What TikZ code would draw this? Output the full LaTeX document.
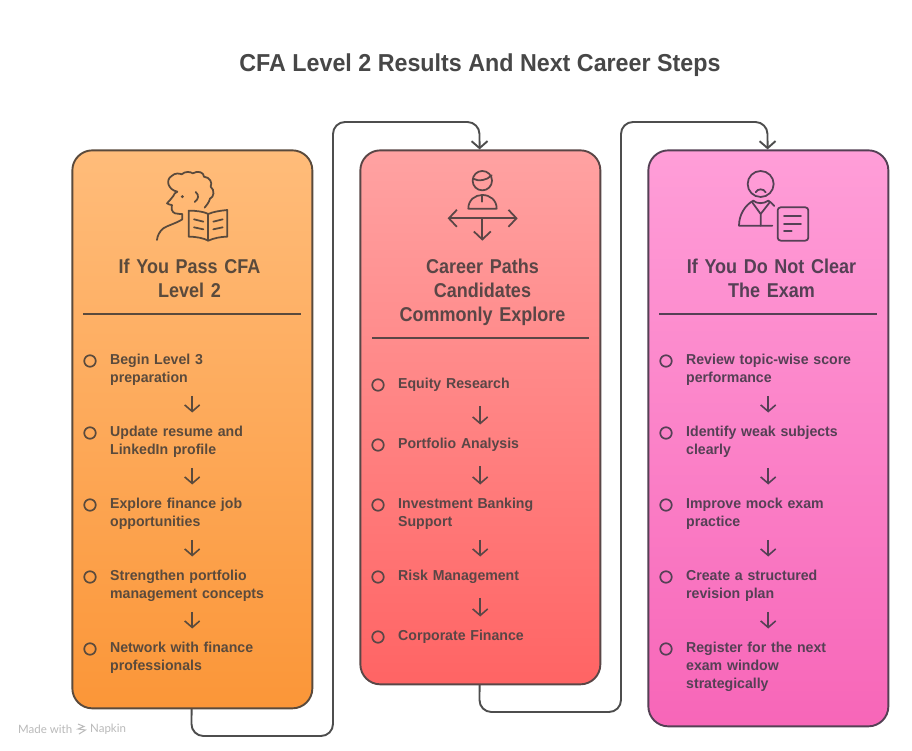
\documentclass[tikz,border=0pt]{standalone}
\usepackage{fontspec}
\setmainfont[FakeStretch=0.95]{Liberation Sans}
\newfontfamily\headfont[FakeStretch=0.9]{Liberation Sans}
\newfontfamily\itemfont[FakeStretch=0.98]{Liberation Sans}
\newfontfamily\markfont{Lato}
\usetikzlibrary{arrows.meta,shadings,calc}
\definecolor{orgtxt}{HTML}{5A4A3C}
\definecolor{redtxt}{HTML}{5A4646}
\definecolor{pnktxt}{HTML}{554055}
\definecolor{conn}{HTML}{4D4D4D}
\tikzset{
  x=1pt,y=-1pt,
  card/.style={draw=#1,line width=1.9pt,rounded corners=20pt,inner sep=0pt,anchor=north west},
  ghost/.style={inner sep=0pt,anchor=north west,minimum width=240pt},
  heading/.style={text=#1,font=\headfont\fontsize{20}{24}\selectfont\bfseries,align=center,inner sep=0pt,anchor=north,text width=230pt},
  item/.style={text=#1,font=\itemfont\fontsize{14.4}{18}\selectfont\bfseries,align=left,inner sep=0pt,anchor=north west,text width=164pt},
  bullet/.style={draw=#1,line width=1.7pt,circle,inner sep=0pt,minimum size=11.5pt},
  rule/.style={draw=#1,line width=1.6pt},
  ico/.style={draw=#1,line width=1.75pt,line cap=round,line join=round},
  link/.style={draw=#1,line width=1.6pt,-{Straight Barb[length=6.5pt,width=15pt,line width=1.6pt]},shorten <=8pt,shorten >=11pt},
  flow/.style={draw=conn,line width=1.9pt,rounded corners=12pt,-{Straight Barb[length=7pt,width=16pt,line width=1.9pt]}},
  bigbarb/.style={{Straight Barb[length=8pt,width=17pt,line width=1.75pt]}-{Straight Barb[length=8pt,width=17pt,line width=1.75pt]}},
  downbarb/.style={-{Straight Barb[length=8pt,width=17pt,line width=1.75pt]}},
}
\newcommand{\itm}[4]{\node[item=#1] (#2) at (#3) {\strut #4\strut};}
\begin{document}
\begin{tikzpicture}
\useasboundingbox (0,0) rectangle (912,751);
\fill[white] (0,0) rectangle (912,751);

\node[text=black!72,font=\fontsize{24.5}{28}\selectfont\bfseries,inner sep=0pt] (title) at (480,65.5) {CFA Level 2 Results And Next Career Steps};

% connectors (below the cards)
\node[ghost,minimum height=558pt] (c1) at (71.4,149.4) {};
\node[ghost,minimum height=534pt] (c2) at (359.4,149.4) {};
\node[ghost,minimum height=576pt] (c3) at (647.4,149.4) {};
\coordinate (f1a) at (191.4,736);
\coordinate (f1b) at (333,736);
\coordinate (f1c) at (333,122);
\coordinate (f1d) at (479.4,122);
\coordinate (f2a) at (479.4,712);
\coordinate (f2b) at (621,712);
\coordinate (f2c) at (621,122);
\coordinate (f2d) at (767.4,122);
\draw[flow] (c1.south) -- (f1a) -- (f1b) -- (f1c) -- (f1d) -- (c2.north);
\draw[flow] (c2.south) -- (f2a) -- (f2b) -- (f2c) -- (f2d) -- (c3.north);

% cards
\node[card=orgtxt,minimum width=240pt,minimum height=558pt,top color={rgb,255:red,255;green,188;blue,122},bottom color={rgb,255:red,251;green,150;blue,56}] at (71.4,149.4) {};
\node[card=redtxt,minimum width=240pt,minimum height=534pt,top color={rgb,255:red,255;green,162;blue,162},bottom color={rgb,255:red,255;green,100;blue,100}] at (359.4,149.4) {};
\node[card=pnktxt,minimum width=240pt,minimum height=576pt,top color={rgb,255:red,255;green,158;blue,216},bottom color={rgb,255:red,247;green,102;blue,184}] at (647.4,149.4) {};

% icon 1
\begin{scope}[shift={(60,140)},x=0.3333pt,y=-0.3333pt]
\draw[ico=orgtxt] (352,155) .. controls (325,150) and (315,120) .. (335,108)
  .. controls (345,98) and (358,100) .. (365,103)
  .. controls (375,93) and (392,95) .. (398,100)
  .. controls (415,90) and (432,98) .. (432,110)
  .. controls (450,112) and (458,128) .. (452,140)
  .. controls (465,150) and (462,172) .. (450,176)
  .. controls (447,188) and (440,195) .. (434,203);
\draw[ico=orgtxt] (352,155) .. controls (345,158) and (342,162) .. (340,168)
  .. controls (335,178) and (325,183) .. (321,190)
  .. controls (325,194) and (332,194) .. (336,195)
  .. controls (334,205) and (334,215) .. (345,220)
  .. controls (355,222) and (362,222) .. (367,222)
  -- (367,238) .. controls (345,252) and (325,255) .. (310,265)
  .. controls (298,275) and (292,288) .. (291,300);
\fill[orgtxt] (367,170) circle (1.6pt);
\draw[ico=orgtxt] (407,156) .. controls (418,165) and (416,178) .. (404,186);
\draw[ico=orgtxt] (386,212) .. controls (410,212) and (432,215) .. (445,222)
  .. controls (460,215) and (482,212) .. (502,210) -- (502,290)
  .. controls (482,290) and (460,295) .. (445,302)
  .. controls (432,295) and (410,290) .. (386,290) -- cycle;
\draw[ico=orgtxt] (445,222) -- (445,302);
\draw[ico=orgtxt] (402,238) -- (430,245) (402,262) -- (430,268) (460,245) -- (488,238) (460,268) -- (488,262);
\end{scope}

% icon 2
\begin{scope}[shift={(350,110)},x=0.3333pt,y=-0.3333pt]
\draw[ico=redtxt] (397,212) circle (9.7pt);
\draw[ico=redtxt] (369,206) .. controls (385,215) and (410,212) .. (425,196);
\draw[ico=redtxt] (355,296) .. controls (355,270) and (375,255) .. (397,255) .. controls (420,255) and (440,270) .. (440,296) -- cycle;
\draw[ico=redtxt] (397,255) -- (397,275);
\draw[ico=redtxt,bigbarb] (293,325) -- (503,325);
\draw[ico=redtxt,downbarb] (397,325) -- (397,392);
\end{scope}

% icon 3
\begin{scope}[shift={(640,110)},x=0.3333pt,y=-0.3333pt]
\draw[ico=pnktxt] (362,222) circle (13pt);
\draw[ico=pnktxt] (347,247) .. controls (352,235) and (372,235) .. (377,247);
\draw[ico=pnktxt] (397,347) -- (297,347) .. controls (297,315) and (315,285) .. (340,272)
  .. controls (350,282) and (372,282) .. (385,272) .. controls (392,276) and (398,282) .. (403,288);
\draw[ico=pnktxt] (336,276) -- (362,312) -- (390,276) (362,312) -- (362,347);
\draw[ico=pnktxt,rounded corners=3pt] (413,292) rectangle (505,392);
\draw[ico=pnktxt] (432,318) -- (483,318) (432,341) -- (483,341) (432,364) -- (455,364);
\end{scope}

% headings and rules
\node[heading=orgtxt] (h1) at (189.5,258.5) {If You Pass CFA\\Level 2};
\node[heading=redtxt] (h2) at (482.5,258.5) {Career Paths\\Candidates\\Commonly Explore};
\node[heading=pnktxt] (h3) at (771.5,258.5) {If You Do Not Clear\\The Exam};
\draw[rule=orgtxt] (83,314) coordinate (r1a) -- (301,314) coordinate (r1b);
\draw[rule=redtxt] (372,338) coordinate (r2a) -- (589,338) coordinate (r2b);
\draw[rule=pnktxt] (659,314) coordinate (r3a) -- (877,314) coordinate (r3b);

% column 1
\itm{orgtxt}{a1}{110,351.5}{Begin Level 3\\preparation}
\itm{orgtxt}{a2}{110,423.5}{Update resume and\\LinkedIn profile}
\itm{orgtxt}{a3}{110,495.5}{Explore finance job\\opportunities}
\itm{orgtxt}{a4}{110,567.5}{Strengthen portfolio\\management concepts}
\itm{orgtxt}{a5}{110,639.5}{Network with finance\\professionals}
\node[bullet=orgtxt] (ba1) at (90,361) {};
\node[bullet=orgtxt] (ba2) at (90,433) {};
\node[bullet=orgtxt] (ba3) at (90,505) {};
\node[bullet=orgtxt] (ba4) at (90,577) {};
\node[bullet=orgtxt] (ba5) at (90,649) {};
\draw[link=orgtxt] (a1.south) -- (a2.north);
\draw[link=orgtxt] (a2.south) -- (a3.north);
\draw[link=orgtxt] (a3.south) -- (a4.north);
\draw[link=orgtxt] (a4.south) -- (a5.north);

% column 2
\itm{redtxt}{b1}{398,375.5}{Equity Research}
\itm{redtxt}{b2}{398,435.5}{Portfolio Analysis}
\itm{redtxt}{b3}{398,495.5}{Investment Banking\\Support}
\itm{redtxt}{b4}{398,567.5}{Risk Management}
\itm{redtxt}{b5}{398,627.5}{Corporate Finance}
\node[bullet=redtxt] (bb1) at (378,385) {};
\node[bullet=redtxt] (bb2) at (378,445) {};
\node[bullet=redtxt] (bb3) at (378,505) {};
\node[bullet=redtxt] (bb4) at (378,577) {};
\node[bullet=redtxt] (bb5) at (378,637) {};
\draw[link=redtxt,shorten <=12pt] (b1.south) -- (b2.north);
\draw[link=redtxt,shorten <=12pt] (b2.south) -- (b3.north);
\draw[link=redtxt] (b3.south) -- (b4.north);
\draw[link=redtxt,shorten <=12pt] (b4.south) -- (b5.north);

% column 3
\itm{pnktxt}{d1}{686,351.5}{\mbox{Review topic-wise score}\\performance}
\itm{pnktxt}{d2}{686,423.5}{Identify weak subjects\\clearly}
\itm{pnktxt}{d3}{686,495.5}{Improve mock exam\\practice}
\itm{pnktxt}{d4}{686,567.5}{Create a structured\\revision plan}
\itm{pnktxt}{d5}{686,639.5}{Register for the next\\exam window\\strategically}
\node[bullet=pnktxt] (bd1) at (666,361) {};
\node[bullet=pnktxt] (bd2) at (666,433) {};
\node[bullet=pnktxt] (bd3) at (666,505) {};
\node[bullet=pnktxt] (bd4) at (666,577) {};
\node[bullet=pnktxt] (bd5) at (666,649) {};
\draw[link=pnktxt] (d1.south) -- (d2.north);
\draw[link=pnktxt] (d2.south) -- (d3.north);
\draw[link=pnktxt] (d3.south) -- (d4.north);
\draw[link=pnktxt] (d4.south) -- (d5.north);

% watermark
\node[text=black!27,font=\markfont\fontsize{11.5}{13}\selectfont,inner sep=0pt,anchor=west] (m1) at (18,729) {Made with};
\node[text=black!27,font=\markfont\fontsize{11.5}{13}\selectfont,inner sep=0pt,anchor=west] (m2) at (90,729) {Napkin};
\draw[black!27,line width=1pt] (78,724) -- (84,726.5) -- (78,729) -- (85.5,730) -- (79,734);
\end{tikzpicture}
\end{document}
